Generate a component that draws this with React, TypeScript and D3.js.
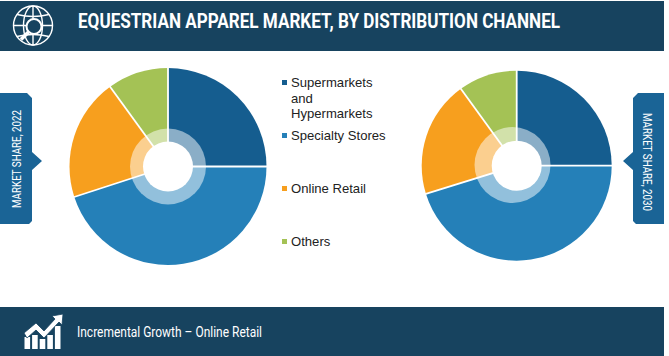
import React from "react";
import * as d3 from "d3";

const categories = ["Supermarkets and Hypermarkets", "Specialty Stores", "Online Retail", "Others"];
const colors = ["#155d8f", "#2580b8", "#f79f1e", "#a4c255"];
const share2022 = [25, 45, 20, 10];
const share2030 = [25, 45.2, 19.8, 10];
const legendLines = [["Supermarkets", "and", "Hypermarkets"], ["Specialty Stores"], ["Online Retail"], ["Others"]];
const legendY = [82, 135, 188, 241];
const title = "EQUESTRIAN APPAREL MARKET, BY DISTRIBUTION CHANNEL";
const footer = "Incremental Growth \u2013 Online Retail";
const HEADER = "#17435f";

const pie = d3.pie<number>().sort(null).value((d) => d);

function Donut({ id, values, cx, cy, r, ringDx, ringDy }: { id: string; values: number[]; cx: number; cy: number; r: number; ringDx: number; ringDy: number }) {
  const arcs = pie(values);
  const outer = d3.arc<d3.PieArcDatum<number>>().innerRadius(0).outerRadius(r);
  return (
    <g transform={`translate(${cx},${cy})`}>
      <clipPath id={id}>
        <circle r={r} />
      </clipPath>
      {arcs.map((a, i) => (
        <path key={i} d={outer(a) ?? ""} fill={colors[i]} />
      ))}
      <circle cx={ringDx} cy={ringDy} r={38} fill="#fff" fillOpacity={0.5} clipPath={`url(#${id})`} />
      {arcs.map((a, i) => {
        const p = d3.pointRadial(a.startAngle, r + 1);
        return <line key={"l" + i} x1={0} y1={0} x2={p[0]} y2={p[1]} stroke="#fff" strokeWidth={1.8} />;
      })}
      <circle r={25} fill="#fff" />
    </g>
  );
}

const globeIcon = (
  <g transform="translate(33,25.5)" fill="none" stroke="#fff" strokeWidth={1.4}>
    <circle r={19.5} />
    <ellipse rx={9.5} ry={19.5} />
    <line x1={0} y1={-19.5} x2={0} y2={19.5} />
    <path d="M-16 -11 Q0 -7 16 -11" />
    <line x1={-19.5} y1={0} x2={19.5} y2={0} />
    <path d="M-16 11 Q0 7 16 11" />
    <circle cx={1} cy={1} r={7.5} fill={HEADER} strokeWidth={2} />
    <line x1={-4.5} y1={6.5} x2={-12} y2={14} strokeWidth={3.5} />
  </g>
);

const barHeights = [12, 14, 10, 14, 23];
const growthIcon = (
  <g fill="#fff">
    {barHeights.map((h, i) => (
      <rect key={i} x={24.5 + i * 7.6} y={349 - h} width={5.6} height={h} />
    ))}
    <path d="M24 333 L36 323 L44 331 L55 319 L52 316 L63 314 L62 325 L59 322 L44 338 L36 330 L27 338 Z" stroke={HEADER} strokeWidth={0.8} />
  </g>
);

export default function App() {
  return (
    <svg
      width={669}
      height={356}
      style={{ position: "absolute", left: 0, top: 0, background: "#fff" }}
    >
      <rect x={0} y={1} width={664} height={50} fill={HEADER} />
      {globeIcon}
      <text
        x={78}
        y={27.5}
        fill="#fff"
        fontFamily="Roboto, sans-serif"
        fontWeight={700}
        fontSize={19.5}
        textLength={482}
        lengthAdjust="spacingAndGlyphs"
      >
        {title}
      </text>

      <Donut id="left" values={share2022} cx={168} cy={166.5} r={98.5} ringDx={0} ringDy={0} />
      <Donut id="right" values={share2030} cx={516.7} cy={165.7} r={95} ringDx={-4.2} ringDy={-0.7} />

      {legendLines.map((lines, i) => (
        <g key={categories[i]}>
          <rect x={282} y={legendY[i] - 2} width={5} height={5} fill={colors[i]} />
          <text fontFamily="Liberation Sans, Arial, sans-serif" fontSize={13.1} fill="#222">
            {lines.map((t, j) => (
              <tspan key={j} x={291} y={legendY[i] + 5 + j * 15.5}>
                {t}
              </tspan>
            ))}
          </text>
        </g>
      ))}

      <path d="M0 93 L27 93 L32 98 L32 152 L42 161 L32 170 L32 221 L29 224 L0 224 Z" fill="#1a6496" />
      <text
        transform="translate(21,159) rotate(-90)"
        textAnchor="middle"
        fill="#fff"
        fontFamily="Roboto, sans-serif"
        fontSize={12}
        textLength={98}
        lengthAdjust="spacingAndGlyphs"
      >
        MARKET SHARE, 2022
      </text>
      <path d="M664 93 L638 93 L633 98 L633 152 L623 161 L633 170 L633 221 L636 224 L664 224 Z" fill="#1a6496" />
      <text
        transform="translate(643,162) rotate(90)"
        textAnchor="middle"
        fill="#fff"
        fontFamily="Roboto, sans-serif"
        fontSize={12}
        textLength={98}
        lengthAdjust="spacingAndGlyphs"
      >
        MARKET SHARE, 2030
      </text>

      <rect x={0} y={307} width={664} height={49} fill={HEADER} />
      {growthIcon}
      <text
        x={77}
        y={337}
        fill="#fff"
        fontFamily="Roboto, sans-serif"
        fontSize={14}
        textLength={185}
        lengthAdjust="spacingAndGlyphs"
      >
        {footer}
      </text>
    </svg>
  );
}
